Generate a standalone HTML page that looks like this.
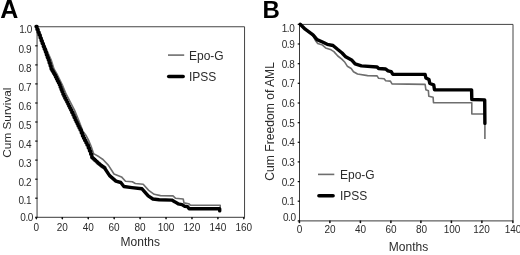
<!DOCTYPE html>
<html><head><meta charset="utf-8"><title>Figure</title>
<style>
html,body{margin:0;padding:0;background:#fff;}
body{width:520px;height:255px;overflow:hidden;font-family:"Liberation Sans",sans-serif;}
svg{display:block;will-change:transform;filter:blur(0.35px);}
text{font-family:"Liberation Sans",sans-serif;fill:#2b2b2b;}
.t{font-size:10px;}
.l{font-size:12px;}
.y{letter-spacing:-0.45px;}
.p{font-size:25px;font-weight:bold;fill:#000;}
</style></head><body>
<svg width="520" height="255" viewBox="0 0 520 255">
<rect width="520" height="255" fill="#fff"/>

<path d="M37.05,26.75H244.55V217.3" fill="none" stroke="#444" stroke-width="1"/>
<path d="M37.05,26.75V217.3H244.55" fill="none" stroke="#3a3a3a" stroke-width="1"/>
<path d="M35.2,26.8h2.3" stroke="#111" stroke-width="1.2"/>
<path d="M35.2,45.8h2.3" stroke="#111" stroke-width="1.2"/>
<path d="M35.2,64.9h2.3" stroke="#111" stroke-width="1.2"/>
<path d="M35.2,83.9h2.3" stroke="#111" stroke-width="1.2"/>
<path d="M35.2,103.0h2.3" stroke="#111" stroke-width="1.2"/>
<path d="M35.2,122.0h2.3" stroke="#111" stroke-width="1.2"/>
<path d="M35.2,141.1h2.3" stroke="#111" stroke-width="1.2"/>
<path d="M35.2,160.1h2.3" stroke="#111" stroke-width="1.2"/>
<path d="M35.2,179.2h2.3" stroke="#111" stroke-width="1.2"/>
<path d="M35.2,198.2h2.3" stroke="#111" stroke-width="1.2"/>
<path d="M35.2,217.3h2.3" stroke="#111" stroke-width="1.2"/>
<path d="M35.60,217.0h1.5v1.6l-0.75,1.2l-0.75,-1.2z" fill="#111"/>
<path d="M61.54,217.0h1.5v1.6l-0.75,1.2l-0.75,-1.2z" fill="#111"/>
<path d="M87.47,217.0h1.5v1.6l-0.75,1.2l-0.75,-1.2z" fill="#111"/>
<path d="M113.41,217.0h1.5v1.6l-0.75,1.2l-0.75,-1.2z" fill="#111"/>
<path d="M139.35,217.0h1.5v1.6l-0.75,1.2l-0.75,-1.2z" fill="#111"/>
<path d="M165.29,217.0h1.5v1.6l-0.75,1.2l-0.75,-1.2z" fill="#111"/>
<path d="M191.23,217.0h1.5v1.6l-0.75,1.2l-0.75,-1.2z" fill="#111"/>
<path d="M217.16,217.0h1.5v1.6l-0.75,1.2l-0.75,-1.2z" fill="#111"/>
<path d="M243.10,217.0h1.5v1.6l-0.75,1.2l-0.75,-1.2z" fill="#111"/>
<text class="t y" x="31.80" y="32.9" text-anchor="end">1.0</text>
<text class="t y" x="31.00" y="52.5" text-anchor="end">0.9</text>
<text class="t y" x="31.00" y="71.5" text-anchor="end">0.8</text>
<text class="t y" x="31.00" y="90.5" text-anchor="end">0.7</text>
<text class="t y" x="31.00" y="109.5" text-anchor="end">0.6</text>
<text class="t y" x="31.00" y="128.5" text-anchor="end">0.5</text>
<text class="t y" x="31.00" y="147.5" text-anchor="end">0.4</text>
<text class="t y" x="31.00" y="166.5" text-anchor="end">0.3</text>
<text class="t y" x="31.00" y="185.5" text-anchor="end">0.2</text>
<text class="t y" x="31.00" y="204.4" text-anchor="end">0.1</text>
<text class="t y" x="32.90" y="220.6" text-anchor="end">0.0</text>
<text class="t" x="36.3" y="230.7" text-anchor="middle">0</text>
<text class="t" x="62.2" y="230.7" text-anchor="middle">20</text>
<text class="t" x="88.2" y="230.7" text-anchor="middle">40</text>
<text class="t" x="114.1" y="230.7" text-anchor="middle">60</text>
<text class="t" x="140.1" y="230.7" text-anchor="middle">80</text>
<text class="t" x="166.0" y="230.7" text-anchor="middle">100</text>
<text class="t" x="191.9" y="230.7" text-anchor="middle">120</text>
<text class="t" x="217.9" y="230.7" text-anchor="middle">140</text>
<text class="t" x="243.8" y="230.7" text-anchor="middle">160</text>
<text class="l" x="140.3" y="245.8" text-anchor="middle">Months</text>
<text class="l" style="font-size:11.8px" transform="translate(11,122.6) rotate(-90)" text-anchor="middle">Cum Survival</text>
<text class="p" x="0.3" y="17.6">A</text>
<polyline points="36.5,26.5 49.0,55.0 51.2,60.0 54.0,69.0 57.5,75.0 62.3,84.8 66.2,94.2 74.5,110.0 79.0,121.0 82.9,131.3 86.1,135.5 88.8,140.7 91.0,146.0 93.6,153.6 99.1,156.8 103.0,159.5 108.5,165.4 114.0,174.0 121.5,176.9 125.5,181.3 132.3,181.7 135.3,183.5 143.2,184.2 148.7,190.4 154.2,194.3 160.5,195.6 173.0,195.9 175.4,198.2 183.2,199.0 184.0,202.9 188.7,203.7 190.3,205.2 220.2,205.2 220.2,207.7" fill="none" stroke="#6e6e6e" stroke-width="1.6" stroke-linejoin="round"/>
<polyline points="36.5,26.5 37.5,26.5 37.5,29.4 38.6,29.4 38.6,32.2 39.6,32.2 39.6,35.0 40.7,35.0 40.7,37.9 41.7,37.9 41.7,40.8 42.7,40.8 42.7,43.6 43.8,43.6 43.8,46.5 44.8,46.5 44.8,49.3 45.9,49.3 45.9,52.1 46.9,52.1 46.9,55.0 47.8,55.0 47.8,57.5 48.8,57.5 48.8,60.0 49.7,60.0 49.7,63.0 50.7,63.0 50.7,66.0 51.6,66.0 51.6,69.0 52.5,69.0 52.5,70.5 53.4,70.5 53.4,72.0 54.2,72.0 54.2,73.5 55.1,73.5 55.1,75.0 56.0,75.0 56.0,77.0 57.0,77.0 57.0,78.9 57.9,78.9 57.9,80.9 58.9,80.9 58.9,82.8 59.8,82.8 59.8,84.8 60.7,84.8 60.7,87.2 61.6,87.2 61.6,89.5 62.5,89.5 62.5,91.8 63.4,91.8 63.4,94.2 64.4,94.2 64.4,96.2 65.3,96.2 65.3,98.2 66.3,98.2 66.3,100.1 67.3,100.1 67.3,102.1 68.3,102.1 68.3,104.1 69.2,104.1 69.2,106.0 70.2,106.0 70.2,108.0 71.2,108.0 71.2,110.0 72.3,110.0 72.3,112.5 73.5,112.5 73.5,115.0 74.6,115.0 74.6,117.5 75.7,117.5 75.7,120.0 76.7,120.0 76.7,122.0 77.7,122.0 77.7,124.0 78.6,124.0 78.6,126.0 79.6,126.0 79.6,128.0 80.6,128.0 80.6,130.0 81.8,130.0 81.8,133.0 83.0,133.0 83.0,136.0 84.1,136.0 84.1,138.2 85.2,138.2 85.2,140.5 86.4,140.5 86.4,142.8 87.5,142.8 87.5,145.0 88.8,145.0 88.8,148.0 90.0,148.0 90.0,151.0 91.2,151.0 91.2,154.2 92.3,154.2 92.3,157.5 93.3,157.5 93.3,158.4 94.2,158.4 94.2,159.3 95.2,159.3 95.2,160.2 96.2,160.2 96.2,161.1 97.2,161.1 97.2,162.0 98.1,162.0 98.1,162.9 99.1,162.9 99.1,163.8 100.1,163.8 100.1,164.6 101.2,164.6 101.2,165.4 102.2,165.4 102.2,166.2 103.3,166.2 103.3,166.9 104.4,166.9 104.4,167.7 105.4,167.7 105.4,168.5 110.1,175.6 116.4,181.1 121.3,182.5 124.4,186.5 132.3,187.6 142.5,188.8 148.7,195.9 153.4,199.0 159.7,199.8 172.3,200.1 175.5,201.9 178.6,203.8 182.5,204.6 184.9,206.2 188.0,206.6 189.6,208.8 220.2,208.8 220.2,210.9" transform="translate(-0.5,0)" fill="none" stroke="#000" stroke-width="3.4" stroke-linejoin="round" stroke-linecap="round"/>
<path d="M168,55.1H184.2" stroke="#6e6e6e" stroke-width="1.6"/>
<text class="l" x="189" y="59.5">Epo-G</text>
<path d="M168.7,76.4H183.2" stroke="#000" stroke-width="3.5" stroke-linecap="round"/>
<text class="l" x="189" y="80.7">IPSS</text>
<path d="M299.5,24.4H513.0V220.9" fill="none" stroke="#444" stroke-width="1"/>
<path d="M299.5,24.4V220.9H513.0" fill="none" stroke="#3a3a3a" stroke-width="1"/>
<path d="M297.7,24.4h2.3" stroke="#111" stroke-width="1.2"/>
<path d="M297.7,44.0h2.3" stroke="#111" stroke-width="1.2"/>
<path d="M297.7,63.7h2.3" stroke="#111" stroke-width="1.2"/>
<path d="M297.7,83.3h2.3" stroke="#111" stroke-width="1.2"/>
<path d="M297.7,103.0h2.3" stroke="#111" stroke-width="1.2"/>
<path d="M297.7,122.7h2.3" stroke="#111" stroke-width="1.2"/>
<path d="M297.7,142.3h2.3" stroke="#111" stroke-width="1.2"/>
<path d="M297.7,161.9h2.3" stroke="#111" stroke-width="1.2"/>
<path d="M297.7,181.6h2.3" stroke="#111" stroke-width="1.2"/>
<path d="M297.7,201.2h2.3" stroke="#111" stroke-width="1.2"/>
<path d="M297.7,220.9h2.3" stroke="#111" stroke-width="1.2"/>
<path d="M298.65,220.6h1.5v1.6l-0.75,1.2l-0.75,-1.2z" fill="#111"/>
<path d="M329.15,220.6h1.5v1.6l-0.75,1.2l-0.75,-1.2z" fill="#111"/>
<path d="M359.65,220.6h1.5v1.6l-0.75,1.2l-0.75,-1.2z" fill="#111"/>
<path d="M390.15,220.6h1.5v1.6l-0.75,1.2l-0.75,-1.2z" fill="#111"/>
<path d="M420.15,220.6h1.5v1.6l-0.75,1.2l-0.75,-1.2z" fill="#111"/>
<path d="M450.65,220.6h1.5v1.6l-0.75,1.2l-0.75,-1.2z" fill="#111"/>
<path d="M481.15,220.6h1.5v1.6l-0.75,1.2l-0.75,-1.2z" fill="#111"/>
<path d="M512.15,220.6h1.5v1.6l-0.75,1.2l-0.75,-1.2z" fill="#111"/>
<text class="t y" x="294.30" y="31.6" text-anchor="end">1.0</text>
<text class="t y" x="295.50" y="220.6" text-anchor="end">0.0</text>
<text class="t y" x="294.30" y="48.1" text-anchor="end">0.9</text>
<text class="t y" x="294.30" y="67.8" text-anchor="end">0.8</text>
<text class="t y" x="294.30" y="87.4" text-anchor="end">0.7</text>
<text class="t y" x="294.30" y="107.1" text-anchor="end">0.6</text>
<text class="t y" x="294.30" y="126.8" text-anchor="end">0.5</text>
<text class="t y" x="294.30" y="146.4" text-anchor="end">0.4</text>
<text class="t y" x="294.30" y="166.0" text-anchor="end">0.3</text>
<text class="t y" x="294.30" y="185.7" text-anchor="end">0.2</text>
<text class="t y" x="294.30" y="205.3" text-anchor="end">0.1</text>
<text class="t" x="299.6" y="233.2" text-anchor="middle">0</text>
<text class="t" x="330.1" y="233.2" text-anchor="middle">20</text>
<text class="t" x="360.6" y="233.2" text-anchor="middle">40</text>
<text class="t" x="391.1" y="233.2" text-anchor="middle">60</text>
<text class="t" x="421.6" y="233.2" text-anchor="middle">80</text>
<text class="t" x="452.1" y="233.2" text-anchor="middle">100</text>
<text class="t" x="481.6" y="233.2" text-anchor="middle">120</text>
<text class="t" x="513.1" y="233.2" text-anchor="middle">140</text>
<text class="l" x="408.5" y="250.5" text-anchor="middle">Months</text>
<text class="l" style="font-size:12.14px" transform="translate(273.7,121.4) rotate(-90)" text-anchor="middle">Cum Freedom of AML</text>
<text class="p" style="font-size:24px" x="262.4" y="18.1">B</text>
<polyline points="300.2,24.3 305.2,29.4 313.0,35.5 315.4,40.4 317.7,43.5 322.5,45.1 325.6,47.9 331.1,49.8 333.9,51.6 337.8,56.0 341.8,59.1 344.9,62.3 347.3,66.2 351.2,68.5 353.5,71.7 357.5,74.0 367.6,75.6 377.1,75.9 378.6,78.3 384.1,78.7 385.7,80.8 390.4,81.1 392.0,83.9 425.1,84.4 425.9,89.8 428.4,90.8 428.8,96.3 433.1,97.2 433.5,102.7 471.8,102.7 471.8,114.0 484.9,114.0 484.9,139.1" fill="none" stroke="#6e6e6e" stroke-width="1.6" stroke-linejoin="round"/>
<polyline points="300.2,24.3 305.2,29.2 313.0,34.9 317.0,39.6 322.5,42.0 327.2,44.3 333.0,45.5 337.5,49.3 342.1,53.0 345.7,56.8 352.0,60.3 355.1,63.8 361.4,65.9 377.1,67.0 378.6,68.5 385.7,69.0 388.0,70.9 391.2,71.7 392.7,74.2 425.1,74.4 425.9,78.0 429.0,79.6 429.8,83.5 433.7,84.8 434.5,89.7 471.6,89.9 471.8,99.5 484.7,99.9 484.9,123.4" fill="none" stroke="#000" stroke-width="3.4" stroke-linejoin="round" stroke-linecap="round"/>
<path d="M318,174.4H334.3" stroke="#6e6e6e" stroke-width="1.6"/>
<text class="l" x="340" y="178.8">Epo-G</text>
<path d="M318.9,195.8H333.1" stroke="#000" stroke-width="3.5" stroke-linecap="round"/>
<text class="l" x="340" y="200.3">IPSS</text>
</svg></body></html>
